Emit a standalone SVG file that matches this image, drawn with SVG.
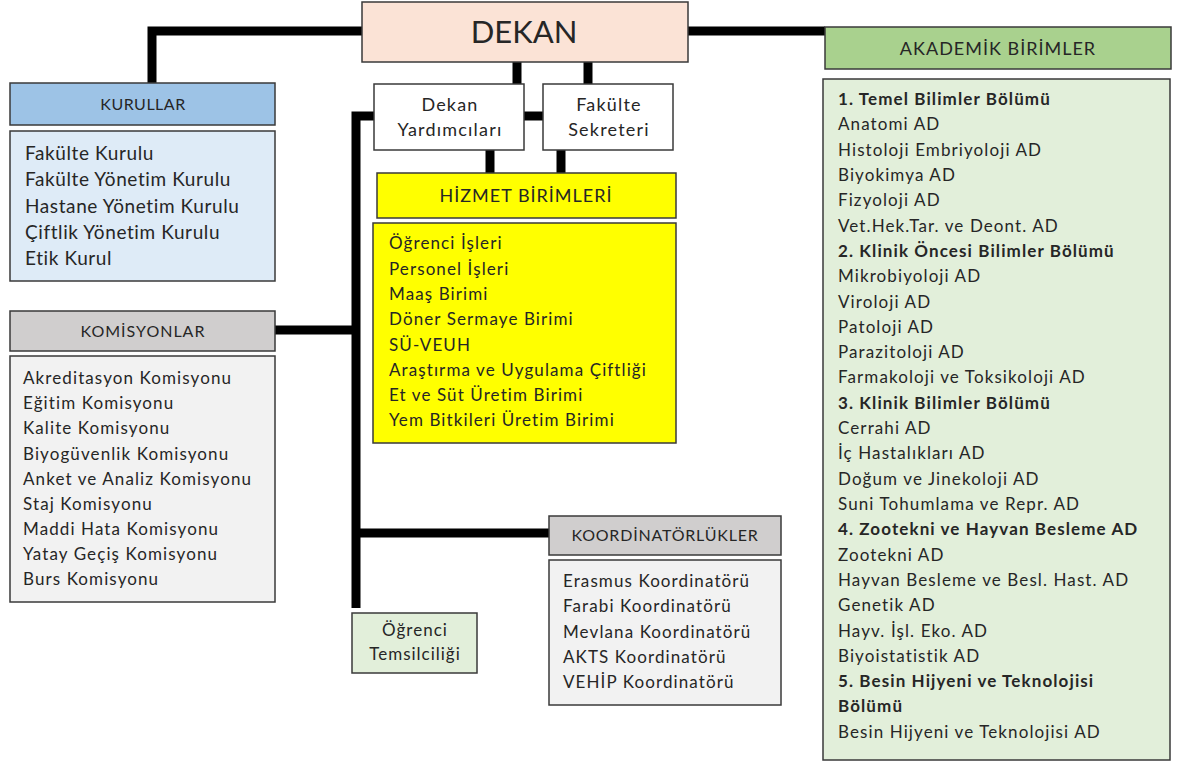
<svg xmlns="http://www.w3.org/2000/svg" width="1185" height="762" viewBox="0 0 1185 762">
<style>
text{font-family:Lato,"Open Sans","Noto Sans",sans-serif;fill:#262626}
.box{stroke:#3a3a3a;stroke-width:1.5}
.c{text-anchor:middle}
.t{font-size:17px;letter-spacing:1.1px}
.b{font-weight:bold}
.conn{stroke:#000;stroke-width:9;fill:none;stroke-linecap:butt}
</style>
<rect width="1185" height="762" fill="#fff"/>
<g id="connectors">
<path class="conn" d="M362 31 H152 V83"/>
<path class="conn" d="M688 31 H825"/>
<path class="conn" d="M517 62 V84"/>
<path class="conn" d="M588 62 V84"/>
<path class="conn" d="M524 116 H543"/>
<path class="conn" d="M374 116 H356 V608"/>
<path class="conn" d="M490 150 V173"/>
<path class="conn" d="M561 150 V173"/>
<path class="conn" d="M275 330 H356"/>
<path class="conn" d="M356 533 H549"/>
</g>
<g id="dekan">
<rect class="box" x="362" y="2" width="326" height="60" fill="#FBE3D6"/>
<text class="c" x="524" y="43" font-size="31">DEKAN</text>
</g>
<g id="dekan-yardimcilari">
<rect class="box" x="374" y="84" width="150" height="66" fill="#fff"/>
<text class="c" x="450" y="111" font-size="18" letter-spacing="1.2">Dekan</text>
<text class="c" x="450" y="136" font-size="18" letter-spacing="1.2">Yardımcıları</text>
</g>
<g id="fakulte-sekreteri">
<rect class="box" x="543" y="84" width="130" height="66" fill="#fff"/>
<text class="c" x="609" y="111" font-size="18" letter-spacing="1.2">Fakülte</text>
<text class="c" x="609" y="136" font-size="18" letter-spacing="1.2">Sekreteri</text>
</g>
<g id="kurullar">
<rect class="box" x="10" y="83" width="265" height="42" fill="#9DC3E6"/>
<text class="c" x="143" y="110" font-size="16" letter-spacing="0.5">KURULLAR</text>
<rect class="box" x="10" y="131" width="265" height="150" fill="#DEEBF7"/>
<g font-size="19" letter-spacing="0.6">
<text x="25" y="160">Fakülte Kurulu</text>
<text x="25" y="186">Fakülte Yönetim Kurulu</text>
<text x="25" y="213">Hastane Yönetim Kurulu</text>
<text x="25" y="239">Çiftlik Yönetim Kurulu</text>
<text x="25" y="265">Etik Kurul</text>
</g>
</g>
<g id="hizmet-birimleri">
<rect class="box" x="377" y="173" width="299" height="45" fill="#FFFF00"/>
<text class="c" x="526" y="202" font-size="18" letter-spacing="1">HİZMET BİRİMLERİ</text>
<rect class="box" x="373" y="223" width="303" height="220" fill="#FFFF00"/>
<g class="t">
<text x="389" y="249">Öğrenci İşleri</text>
<text x="389" y="275">Personel İşleri</text>
<text x="389" y="300">Maaş Birimi</text>
<text x="389" y="325"> Döner Sermaye  Birimi</text>
<text x="389" y="351">SÜ-VEUH</text>
<text x="389" y="376">Araştırma ve Uygulama Çiftliği</text>
<text x="389" y="401">Et ve Süt Üretim  Birimi</text>
<text x="389" y="426">Yem  Bitkileri Üretim Birimi</text>
</g>
</g>
<g id="komisyonlar">
<rect class="box" x="10" y="311" width="265" height="40" fill="#D0CECE"/>
<text class="c" x="143" y="337" font-size="16" letter-spacing="1">KOMİSYONLAR</text>
<rect class="box" x="10" y="356" width="265" height="246" fill="#F2F2F2"/>
<g class="t">
<text x="23" y="384">Akreditasyon Komisyonu</text>
<text x="23" y="409">Eğitim Komisyonu</text>
<text x="23" y="434">Kalite Komisyonu</text>
<text x="23" y="460">Biyogüvenlik Komisyonu</text>
<text x="23" y="485">Anket  ve Analiz Komisyonu</text>
<text x="23" y="510">Staj Komisyonu</text>
<text x="23" y="535">Maddi Hata Komisyonu</text>
<text x="23" y="560">Yatay Geçiş Komisyonu</text>
<text x="23" y="585">Burs Komisyonu</text>
</g>
</g>
<g id="koordinatorlukler">
<rect class="box" x="549" y="516" width="232" height="39" fill="#D0CECE"/>
<text class="c" x="665" y="541" font-size="16" letter-spacing="0.8">KOORDİNATÖRLÜKLER</text>
<rect class="box" x="549" y="560" width="232" height="145" fill="#F2F2F2"/>
<g class="t">
<text x="563" y="587">Erasmus Koordinatörü</text>
<text x="563" y="612">Farabi Koordinatörü</text>
<text x="563" y="638">Mevlana Koordinatörü</text>
<text x="563" y="663">AKTS  Koordinatörü</text>
<text x="563" y="688">VEHİP Koordinatörü</text>
</g>
</g>
<g id="ogrenci-temsilciligi">
<rect class="box" x="352" y="613" width="125" height="60" fill="#E2EFDA"/>
<text class="c" x="415" y="636" font-size="17" letter-spacing="1">Öğrenci</text>
<text class="c" x="415" y="660" font-size="17" letter-spacing="1">Temsilciliği</text>
</g>
<g id="akademik-birimler">
<rect class="box" x="825" y="27" width="346" height="42" fill="#A9D18E"/>
<text class="c" x="998" y="55" font-size="18" letter-spacing="1">AKADEMİK BİRİMLER</text>
<rect class="box" x="823" y="79" width="347" height="681" fill="#E2EFDA"/>
<g class="t">
<text class="b" x="838" y="105">1. Temel Bilimler  Bölümü</text>
<text x="838" y="130">Anatomi AD</text>
<text x="838" y="156">Histoloji Embriyoloji AD</text>
<text x="838" y="181">Biyokimya AD</text>
<text x="838" y="206">Fizyoloji AD</text>
<text x="838" y="232">Vet.Hek.Tar.  ve  Deont.  AD</text>
<text class="b" x="838" y="257">2. Klinik  Öncesi Bilimler  Bölümü</text>
<text x="838" y="282">Mikrobiyoloji AD</text>
<text x="838" y="308">Viroloji AD</text>
<text x="838" y="333">Patoloji AD</text>
<text x="838" y="358">Parazitoloji AD</text>
<text x="838" y="383">Farmakoloji ve Toksikoloji AD</text>
<text class="b" x="838" y="409">3. Klinik  Bilimler  Bölümü</text>
<text x="838" y="434">Cerrahi AD</text>
<text x="838" y="459">İç Hastalıkları AD</text>
<text x="838" y="485">Doğum  ve Jinekoloji AD</text>
<text x="838" y="510">Suni Tohumlama ve Repr.  AD</text>
<text class="b" x="838" y="535">4. Zootekni ve Hayvan  Besleme AD</text>
<text x="838" y="561">Zootekni AD</text>
<text x="838" y="586">Hayvan Besleme  ve  Besl. Hast. AD</text>
<text x="838" y="611">Genetik AD</text>
<text x="838" y="637">Hayv.  İşl. Eko.  AD</text>
<text x="838" y="662">Biyoistatistik AD</text>
<text class="b" x="838" y="687">5. Besin  Hijyeni  ve Teknolojisi</text>
<text class="b" x="838" y="712">Bölümü</text>
<text x="838" y="738">Besin Hijyeni ve Teknolojisi AD</text>
</g>
</g>
</svg>
